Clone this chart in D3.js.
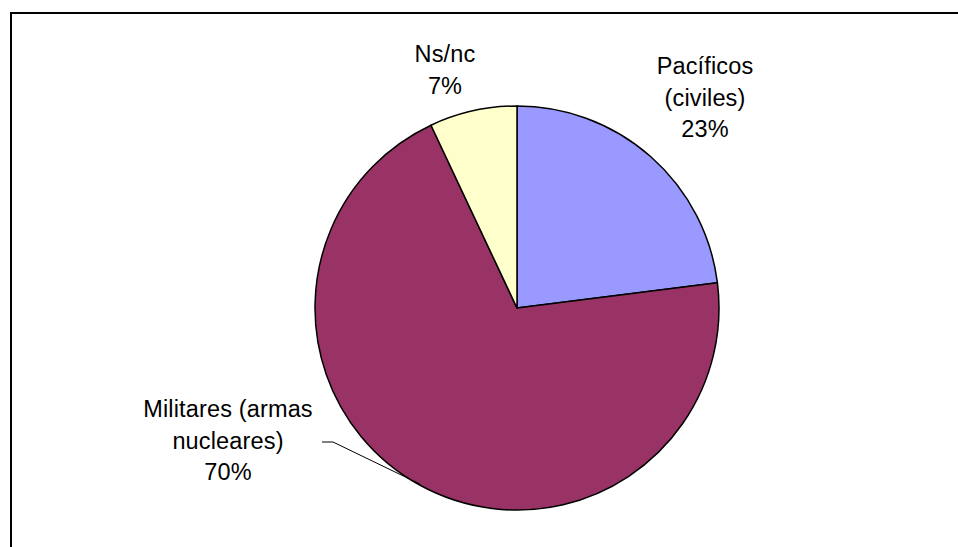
<!DOCTYPE html>
<html><head><meta charset="utf-8">
<script src="https://cdn.jsdelivr.net/npm/d3@7"></script>
<style>html,body{margin:0;padding:0;background:#fff;overflow:hidden}</style>
</head><body>
<svg id="c" width="958" height="547"></svg>
<script>
const categories = ["Pacíficos (civiles)", "Militares (armas nucleares)", "Ns/nc"];
const values = [23, 70, 7];
const labelLines = [["Pacíficos", "(civiles)", "23%"], ["Militares (armas", "nucleares)", "70%"], ["Ns/nc", "7%"]];
const colors = ["#9999FF", "#993366", "#FFFFCC"];

const svg = d3.select("#c");
svg.append("rect").attr("x", 11).attr("y", 13).attr("width", 960).attr("height", 560)
  .attr("fill", "#fff").attr("stroke", "#000").attr("stroke-width", 2);

const cx = 517, cy = 308, r = 202;
const g = svg.append("g").attr("transform", `translate(${cx},${cy})`);
const pie = d3.pie().value(d => d).sort(null);
const arcs = pie(values);
const arc = d3.arc().innerRadius(0).outerRadius(r);

g.selectAll("path").data(arcs).enter().append("path")
  .attr("d", arc).attr("fill", (d, i) => colors[i])
  .attr("stroke", "#000").attr("stroke-width", 1.5).attr("stroke-linejoin", "round");

// label positions (centre x, first baseline y) relative to pie centre
const labelPos = [[188, -234], [-289, 109], [-72, -246]];
const lineH = 31.5;
arcs.forEach((a, i) => {
  const t = g.append("text").attr("text-anchor", "middle")
    .attr("font-family", "Liberation Sans, Arial, sans-serif")
    .attr("font-size", 23.5).attr("letter-spacing", 0.15).attr("fill", "#000");
  labelLines[i].forEach((s, k) => {
    t.append("tspan").attr("x", labelPos[i][0]).attr("y", labelPos[i][1] + k * lineH).text(s);
  });
});

// leader line for Militares
const m = arcs[1];
const mid = (m.startAngle + m.endAngle) / 2;
const ex = Math.sin(mid) * (r - 1), ey = -Math.cos(mid) * (r - 1);
g.append("path")
  .attr("d", `M${-195},${134}L${-184},${134}L${ex},${ey}`)
  .attr("fill", "none").attr("stroke", "#000").attr("stroke-width", 1);
</script>
</body></html>
